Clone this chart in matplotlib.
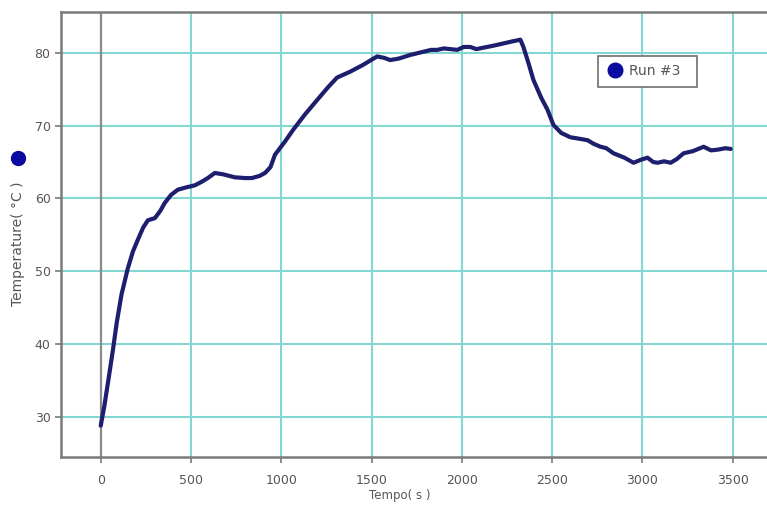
import matplotlib
matplotlib.use("Agg")
import matplotlib.pyplot as plt
from matplotlib.lines import Line2D

# Run #3 temperature log
tempo_s = [0, 20, 45, 67, 89, 115, 150, 178, 205, 235, 261, 300, 330, 355, 390,
           427, 470, 521, 560, 593, 632, 680, 743, 800, 837, 880, 910, 940, 965,
           1020, 1065, 1130, 1198, 1260, 1309, 1381, 1450, 1531, 1570, 1603, 1650,
           1714, 1780, 1830, 1864, 1900, 1975, 2010, 2047, 2080, 2119, 2180, 2268,
           2324, 2341, 2370, 2396, 2440, 2474, 2507, 2550, 2601, 2650, 2696, 2730,
           2768, 2800, 2840, 2900, 2951, 2990, 3028, 3060, 3084, 3120, 3156, 3190,
           3228, 3280, 3339, 3380, 3417, 3460, 3489]
temperature_c = [28.8, 31.5, 35.5, 39.1, 43.0, 46.8, 50.4, 52.7, 54.3, 56.0, 57.0,
                 57.3, 58.3, 59.4, 60.5, 61.2, 61.5, 61.8, 62.3, 62.8, 63.5, 63.3,
                 62.9, 62.8, 62.8, 63.1, 63.5, 64.3, 66.0, 67.8, 69.4, 71.5, 73.5,
                 75.3, 76.6, 77.4, 78.3, 79.5, 79.3, 79.0, 79.2, 79.7, 80.1, 80.4,
                 80.4, 80.6, 80.4, 80.8, 80.8, 80.5, 80.7, 81.0, 81.5, 81.8, 80.8,
                 78.5, 76.3, 73.8, 72.2, 70.1, 69.0, 68.4, 68.2, 68.0, 67.5, 67.1,
                 66.9, 66.2, 65.6, 64.9, 65.3, 65.6, 65.0, 64.9, 65.1, 64.9, 65.4,
                 66.2, 66.5, 67.1, 66.6, 66.7, 66.9, 66.8]
run_label = "Run #3"
x_ticks = [0, 500, 1000, 1500, 2000, 2500, 3000, 3500]
y_ticks = [30, 40, 50, 60, 70, 80]

W, H = 767, 507
fig = plt.figure(figsize=(W / 100, H / 100), dpi=100, facecolor="white")
ax = fig.add_axes([61 / W, (H - 457) / H, (W - 61) / W, (457 - 12) / H])

grid_col = "#84d6d1"
text_col = "#555555"

ax.set_xlim(-220, 3690)
ax.set_ylim(24.5, 85.6)
ax.set_xticks(x_ticks)
ax.set_yticks(y_ticks)

for xv in x_ticks[1:]:
    ax.axvline(xv, color=grid_col, lw=1.5, zorder=1)
for yv in y_ticks:
    ax.axhline(yv, color=grid_col, lw=1.5, zorder=1)
ax.axvline(0, color="#8a8a8a", lw=1.6, zorder=1.5)

ax.plot(tempo_s, temperature_c, color="#1e1e6e", lw=3.0, solid_joinstyle="round",
        solid_capstyle="round", zorder=3)

for side in ("left", "bottom", "top"):
    ax.spines[side].set_color("#7a7a7a")
    ax.spines[side].set_linewidth(1.8)
ax.spines["right"].set_visible(False)

ax.tick_params(axis="both", colors="#7a7a7a", labelcolor=text_col, labelsize=9,
               length=4, width=1.2, direction="out")
ax.tick_params(axis="x", pad=8)

# axis titles
fig.text(18 / W, 1 - 244 / H, "Temperature( °C )", rotation=90, ha="center",
         va="center", fontsize=10, color=text_col)
fig.text(400 / W, 1 - 496 / H, "Tempo( s )", ha="center", va="center",
         fontsize=8.5, color=text_col)
fig.add_artist(Line2D([18 / W], [1 - 158 / H], marker="o", markersize=10,
                      color="#0a0aa0", transform=fig.transFigure))

handle = Line2D([], [], marker="o", linestyle="none", markersize=10.5,
                color="#0a0aa0")
leg = ax.legend([handle], [run_label + "  "], loc="upper left",
                bbox_to_anchor=(598 / W, 1 - 56 / H),
                bbox_transform=fig.transFigure, fancybox=False, framealpha=1,
                edgecolor="#707070", fontsize=10, handletextpad=0.3,
                borderpad=0.6, handlelength=1.3, borderaxespad=0)
for t in leg.get_texts():
    t.set_color(text_col)
leg.get_frame().set_linewidth(1.2)

fig.savefig("out.png", dpi=100, facecolor="white")
